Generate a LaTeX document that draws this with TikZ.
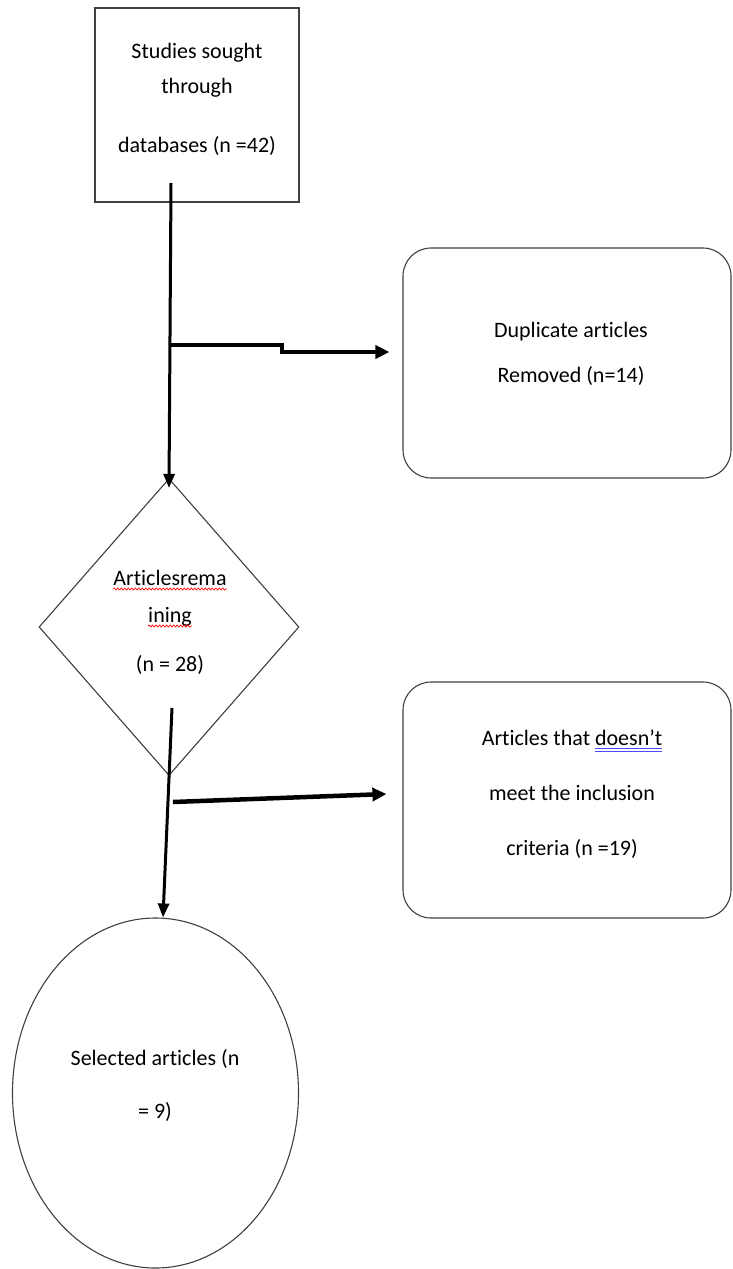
\documentclass[tikz,border=0pt]{standalone}
\usepackage{fontspec}
\setmainfont[Ligatures=NoCommon]{Carlito}
\usetikzlibrary{shapes.geometric,arrows.meta,calc,decorations.pathmorphing}
\begin{document}
\begin{tikzpicture}[x=1pt,y=-1pt,
  shapebox/.style={draw=black!75,line width=1.1pt,fill=white,inner sep=0pt},
  lbl/.style={anchor=base,inner sep=0pt,font=\fontsize{22}{26}\selectfont},
  mainline/.style={line width=3pt,-{Triangle[length=14pt,width=11pt]}},
  branchline/.style={line width=4.5pt,-{Triangle[length=14pt,width=13pt]}},
  spell/.style={red,line width=0.7pt,decorate,decoration={snake,amplitude=1pt,segment length=3.5pt}},
  gram/.style={blue!70,line width=0.7pt}]
\useasboundingbox (0,0) rectangle (732,1269);
\fill[white] (0,0) rectangle (732,1269);

% shapes
\node[shapebox,rectangle,minimum width=204pt,minimum height=194pt] (src) at (197,105) {};
\node[shapebox,rectangle,rounded corners=28pt,minimum width=328pt,minimum height=230pt] (dup) at (567,363) {};
\node[shapebox,diamond,minimum width=260pt,minimum height=297pt] (rem) at (169,627) {};
\node[shapebox,rectangle,rounded corners=28pt,minimum width=328pt,minimum height=236pt] (incl) at (567,800) {};
\node[shapebox,ellipse,minimum width=286pt,minimum height=350pt] (sel) at (155.5,1093) {};

% texts
\node[lbl] (t1) at (197,58) {Studies sought};
\node[lbl] (t2) at (197,93) {through};
\node[lbl] (t3) at (197,152) {databases (n =42)};
\node[lbl] (t4) at (571,337) {Duplicate articles};
\node[lbl] (t5) at (571,382) {Removed (n=14)};
\node[lbl] (t6) at (170,585) {Articlesrema};
\node[lbl] (t7) at (170,622) {ining};
\node[lbl] (t8) at (170,671) {(n = 28)};
\node[lbl] (t9) at (572,745) {Articles that doesn’t};
\node[lbl] (t10) at (572,800) {meet the inclusion};
\node[lbl] (t11) at (572,855) {criteria (n =19)};
\node[lbl] (t12) at (155,1065) {Selected articles (n};
\node[lbl] (t13) at (155,1118) {= 9)};

% proofing marks
\draw[spell] ([yshift=-4pt]t6.base west) -- ([yshift=-4pt]t6.base east);
\draw[spell] ([yshift=-4pt]t7.base west) -- ([yshift=-4pt]t7.base east);
\draw[gram] (595,748) -- (662,748);
\draw[gram] (595,751) -- (662,751);

% connectors
\coordinate (a1) at (171,183);
\coordinate (b1) at (171,345);
\coordinate (b2) at (173,802);
\coordinate (d1) at (172,708);
\draw[mainline] (a1) -- ([yshift=-10pt]rem.north);
\draw[branchline] (b1) -- (282,345) -- (282,352) -- ($(dup.west)+(-13,-11)$);
\draw[branchline] (b2) -- ($(incl.west)+(-16,-6)$);
\draw[mainline] (d1) -- ($(sel.north)+(7.5,0)$);
\end{tikzpicture}
\end{document}
